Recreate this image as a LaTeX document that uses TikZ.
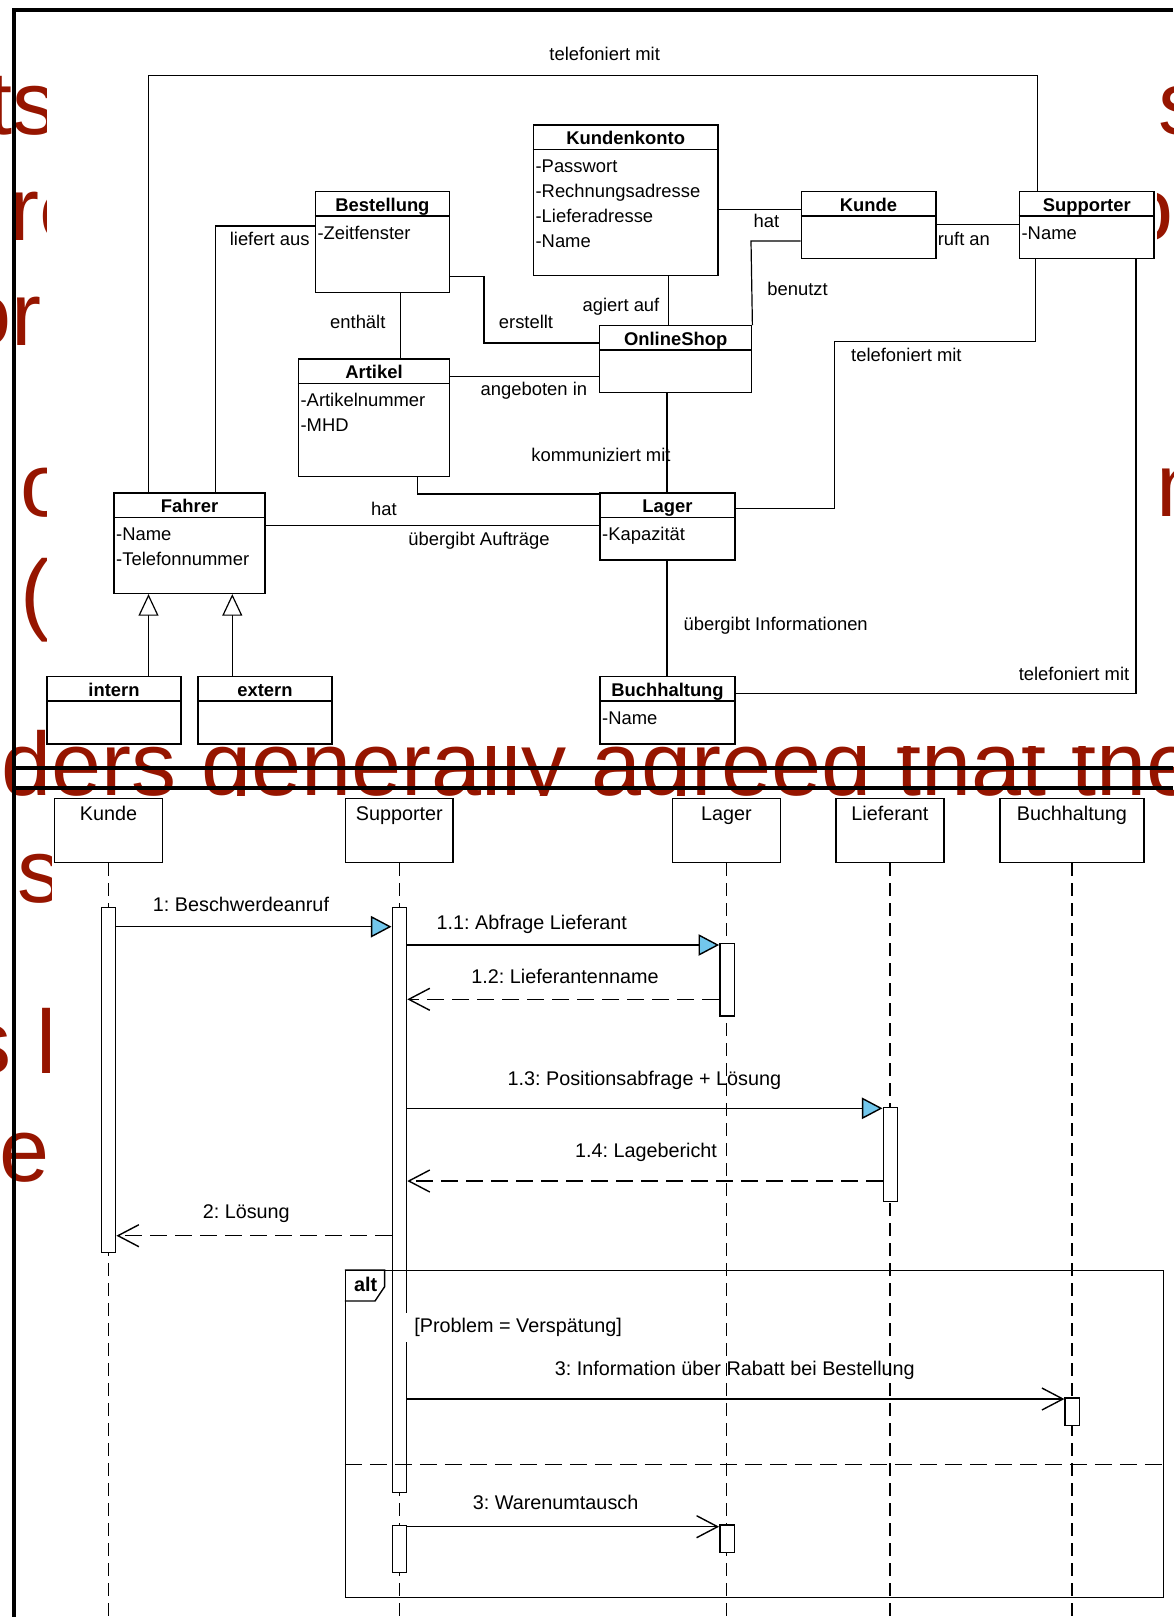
\documentclass[tikz,border=0pt]{standalone}
\usepackage{fontspec}
\setmainfont{Liberation Sans}
\usetikzlibrary{arrows.meta,calc,positioning}
\definecolor{blau}{RGB}{114,199,236}
\definecolor{rot}{RGB}{150,21,0}

\begin{document}
\frenchspacing
\begin{tikzpicture}[
    x=0.5pt, y=-0.5pt,
    klasse/.style={draw, fill=white, line width=0.7pt, anchor=north west, inner sep=0pt},
    kopf/.style={font=\fontsize{9.2}{11}\selectfont\bfseries, anchor=base, inner sep=0pt},
    attr/.style={font=\fontsize{9.2}{11}\selectfont, anchor=base west, inner sep=0pt},
    rolle/.style={font=\fontsize{9.2}{11}\selectfont, anchor=base, inner sep=0pt},
    linie/.style={line width=0.6pt},
    erbt/.style={linie, -{Triangle[length=10.8pt, width=10pt, fill=white]}},
    kopfbox/.style={draw, line width=0.7pt, anchor=north west, inner sep=0pt, minimum height=32pt},
    seqtext/.style={font=\fontsize{9.9}{12}\selectfont, anchor=base, inner sep=0pt},
    lebenslinie/.style={line width=0.7pt, dash pattern=on 6.5pt off 3.5pt},
    akt/.style={draw, fill=white, line width=0.7pt, anchor=north, inner sep=0pt, minimum width=7.2pt},
    sync/.style={line width=0.7pt, -{Triangle[length=10.3pt, width=10.7pt, fill=blau]}},
    ruf/.style={line width=0.7pt, -{Straight Barb[length=10.5pt, width=11pt]}},
    antwort/.style={ruf, dash pattern=on 8.5pt off 4pt},
    hinten/.style={font=\fontsize{45}{54}\selectfont, text=rot, anchor=base west, inner sep=0pt},
    rahmen/.style={line width=1.6pt}
  ]
  \useasboundingbox (0,0) rectangle (1173,1617);
  \clip (0,0) rectangle (1173,1617);

  % page behind the two pictures
  \foreach \n/\x/\y/\t in {h1/-12.7/134.6/ts, h2/9/240/re, h3/-39.3/345/or, h4/20/516/o,
      h5/20.4/623/(, h6/0.8/795/ders generally agreed that the, h7/17.3/902.5/s,
      h8/-34.3/1073/s l, h9/-1/1181/e, h10/1158/134/s, h11/1123/240/o, h12/1156/516/n}
    \node[hinten] (\n) at (\x,\y) {\t};
  \fill[white] (47,12) rectangle (1157,746);
  \fill[white] (52,796) rectangle (1173,1617);

  % class diagram
  \foreach \n/\x/\y/\w/\h/\t in {kk/532.7/124.3/184.6/150.7/Kundenkonto,
      bst/314.6/191/134.3/100.7/Bestellung, kd/800.5/191/134.6/66.7/Kunde,
      sup/1018.7/191/134.7/66.7/Supporter, os/598.9/325/152.1/66.7/OnlineShop,
      art/297.7/358.3/151.3/117.4/Artikel, fah/113.3/492.3/151.1/100.4/Fahrer,
      lag/599.3/492.3/135/67/Lager, int/46.3/676/134/67.3/intern,
      ext/197.1/676/134.3/67.3/extern, bh/599.3/676/135/67.3/Buchhaltung} {
    \node[klasse, minimum width=\w*0.5pt, minimum height=\h*0.5pt] (\n) at (\x,\y) {};
    \node[kopf] (\n-k) at ($(\n.north)+(0,20)$) {\t};
    \draw[line width=0.7pt] ($(\n.north west)+(0,25)$) -- ($(\n.north east)+(0,25)$);
  }
  \foreach \n/\i/\a in {kk/0/-Passwort, kk/1/-Rechnungsadresse, kk/2/-Lieferadresse,
      kk/3/-Name, bst/0/-Zeitfenster, sup/0/-Name, art/0/-Artikelnummer, art/1/-MHD,
      fah/0/-Name, fah/1/-Telefonnummer, lag/0/-Kapazität, bh/0/-Name}
    \node[attr] (\n-a\i) at ($(\n.north west)+(2.5,48.5+25*\i)$) {\a};

  \coordinate (t1) at (148.5,75.3);
  \coordinate (t2) at (1037.6,75.3);
  \draw[linie] (fah.north -| t1) -- (t1) -- (t2) -- (sup.north -| t2);
  \node[rolle] (r1) at (604.7,60) {telefoniert mit};

  \coordinate (la) at (215.8,226);
  \draw[linie] (fah.north -| la) -- (la) -- (bst.west |- la);
  \node[rolle, anchor=base east] (r2) at (310,245) {liefert aus};

  \coordinate (en) at (400.7,0);
  \draw[linie] (bst.south -| en) -- (art.north -| en);
  \node[rolle] (r3) at (357.8,328.3) {enthält};

  \coordinate (e1) at (484,276.3);
  \coordinate (e2) at (484,343);
  \draw[linie] (bst.east |- e1) -- (e1) -- (e2) -- (os.west |- e2);
  \node[rolle] (r4) at (526,328.3) {erstellt};

  \coordinate (an) at (0,376.7);
  \draw[linie] (art.east |- an) -- (os.west |- an);
  \node[rolle] (r5) at (533.9,395) {angeboten in};

  \coordinate (ag) at (668.5,0);
  \draw[linie] (kk.south -| ag) -- (os.north -| ag);
  \node[rolle] (r6) at (621,311.7) {agiert auf};

  \coordinate (ha) at (0,209.3);
  \draw[linie] (kk.east |- ha) -- (kd.west |- ha);
  \node[rolle] (r7) at (766.5,227.7) {hat};

  \coordinate (be) at (751,241);
  \draw[linie] (kd.west |- be) -- (be) -- (os.north east);
  \node[rolle] (r8) at (797.5,295) {benutzt};

  \coordinate (ru) at (0,224.3);
  \draw[linie] (kd.east |- ru) -- (sup.west |- ru);
  \node[rolle, anchor=base west] (r9) at (937.4,245) {ruft an};

  \coordinate (t3) at (1035.4,341.3);
  \coordinate (t4) at (834.5,508.3);
  \draw[linie] (sup.south -| t3) -- (t3) -| (t4) -- (lag.east |- t4);
  \node[rolle] (r10) at (906.4,361.7) {telefoniert mit};

  \coordinate (ko) at (417.1,494);
  \draw[linie] (art.south -| ko) -- (ko) -- (lag.west |- ko);
  \node[rolle] (r11) at (601,461.7) {kommuniziert mit};

  \coordinate (ol) at (667,0);
  \draw[linie] (os.south -| ol) -- (lag.north -| ol);
  \draw[linie] (lag.south -| ol) -- (bh.north -| ol);
  \node[rolle] (r14) at (775.7,630) {übergibt Informationen};

  \coordinate (fl) at (0,525.7);
  \draw[linie] (fah.east |- fl) -- (lag.west |- fl);
  \node[rolle] (r12) at (383.9,515.7) {hat};
  \node[rolle] (r13) at (479,545.7) {übergibt Aufträge};

  \coordinate (t5) at (1136,693.3);
  \draw[linie] (sup.south -| t5) -- (t5) -- (bh.east |- t5);
  \node[rolle] (r15) at (1074,680) {telefoniert mit};

  \coordinate (g1) at (148.5,0);
  \coordinate (g2) at (232.3,0);
  \draw[erbt] (int.north -| g1) -- (fah.south -| g1);
  \draw[erbt] (ext.north -| g2) -- (fah.south -| g2);

  % sequence diagram
  \coordinate (ende) at (0,1617);
  \foreach \n/\x/\w/\t in {kH/54/107.5/Kunde, sH/344.8/107.6/Supporter,
      lH/671.9/107.8/Lager, liH/835.3/107.8/Lieferant, bH/999.1/144.1/Buchhaltung} {
    \node[kopfbox, minimum width=\w*0.5pt] (\n) at (\x,797.7) {};
    \node[seqtext] (\n-t) at ($(\n.north)+(0,22.3)$) {\t};
    \draw[lebenslinie] (\n.south) -- (\n.south |- ende);
  }
  \foreach \n/\x/\y/\h in {kA/108.5/906.7/345, sA1/399.4/906.7/585, lA1/727/942.7/72.6,
      liA/890.4/1106.7/94.3, bA/1072.3/1397.3/27.7, sA2/399.4/1525/46.7, lA2/727/1524.3/27.4}
    \node[akt, minimum height=\h*0.5pt] (\n) at (\x,\y) {};

  \foreach \n/\y in {m1/926.7, m11/945, m12/999.3, m13/1108.3, m14/1181, m2/1235.7,
      m3a/1399, m3b/1526.7}
    \coordinate (\n) at (0,\y);
  \draw[sync] (kA.east |- m1) -- (sA1.west |- m1);
  \draw[sync] (sA1.east |- m11) -- (lA1.west |- m11);
  \draw[antwort] (lA1.west |- m12) -- (sA1.east |- m12);
  \draw[sync] (sA1.east |- m13) -- (liA.west |- m13);
  \draw[antwort] (liA.west |- m14) -- (sA1.east |- m14);
  \draw[antwort] (sA1.west |- m2) -- (kA.east |- m2);
  \draw[ruf] (sA1.east |- m3a) -- (bA.west |- m3a);
  \draw[ruf] (sA2.east |- m3b) -- (lA2.west |- m3b);

  \node[seqtext] (n1) at (241,911.7) {1: Beschwerdeanruf};
  \node[seqtext] (n11) at (531.8,929.3) {1.1: Abfrage Lieferant};
  \node[seqtext] (n12) at (565,983.3) {1.2: Lieferantenname};
  \node[seqtext] (n13) at (644.3,1085) {1.3: Positionsabfrage + Lösung};
  \node[seqtext] (n14) at (646,1157.3) {1.4: Lagebericht};
  \node[seqtext] (n2) at (246.3,1218.3) {2: Lösung};
  \node[seqtext] (n3a) at (734.8,1375) {3: Information über Rabatt bei Bestellung};
  \node[seqtext] (n3b) at (555.6,1509) {3: Warenumtausch};

  \node[draw, line width=0.7pt, anchor=north west, inner sep=0pt, minimum width=409pt,
    minimum height=163.35pt] (alt) at (344.8,1270) {};
  \draw[line width=0.7pt] (alt.north west) -- ++(39.8,0) -- ++(0,16.7) -- ++(-9.6,14.3)
    -- ++(-30.2,0);
  \node[seqtext, font=\fontsize{9.9}{12}\selectfont\bfseries] (alt-t) at (365.6,1291.7) {alt};
  \coordinate (sep) at (0,1464.3);
  \draw[line width=0.7pt, dash pattern=on 8.5pt off 4pt] (alt.west |- sep) -- (alt.east |- sep);
  \node[seqtext, anchor=base west, fill=white, inner xsep=5pt, inner ysep=2.6pt] (guard)
    at (404,1332.7) {[Problem = Verspätung]};

  % frame lines
  \draw[rahmen] (14,1617) -- (14,10) -- (1173,10);
  \draw[rahmen] (14,768) -- (1173,768);
  \draw[rahmen] (14,788) -- (1173,788);
\end{tikzpicture}
\end{document}
